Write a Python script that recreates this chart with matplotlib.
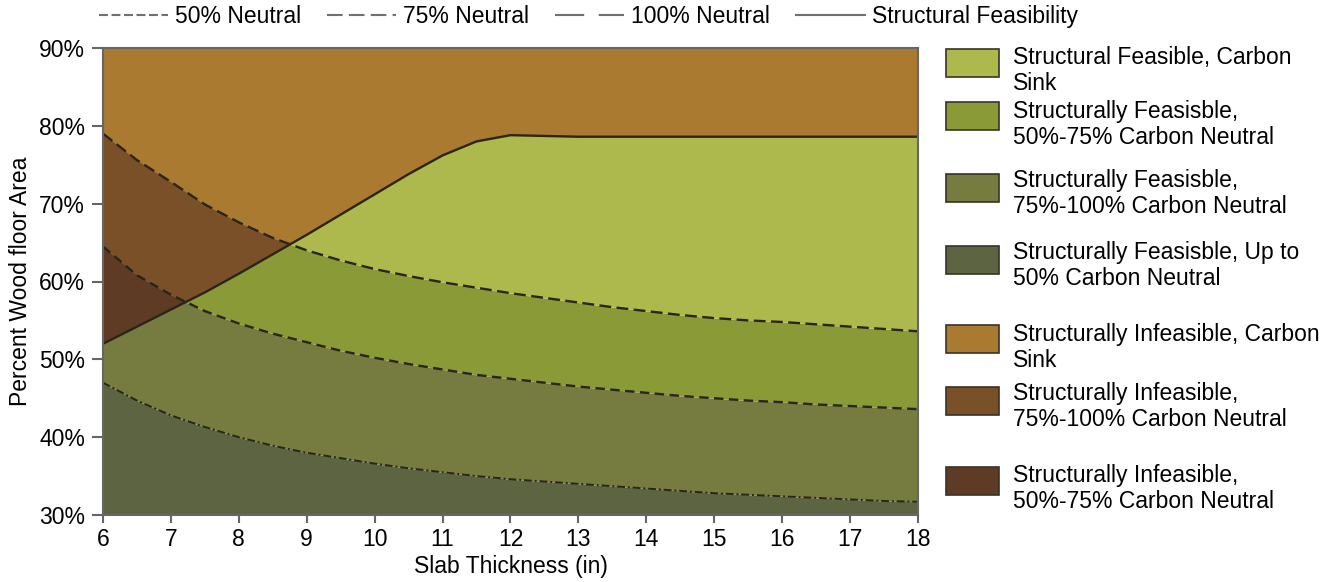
import numpy as np
import matplotlib
matplotlib.use('Agg')
import matplotlib.pyplot as plt
from matplotlib.lines import Line2D
from matplotlib.patches import Rectangle

plt.rcParams['font.family'] = ['Liberation Sans', 'DejaVu Sans']
plt.rcParams['font.size'] = 16.5

# slab thickness (in) and the boundary curves (% wood floor area)
thickness = [6, 6.5, 7, 7.5, 8, 8.5, 9, 9.5, 10, 10.5, 11, 11.5, 12,
             12.5, 13, 13.5, 14, 14.5, 15, 15.5, 16, 16.5, 17, 17.5, 18]
neutral_100 = [79.0, 75.6, 72.8, 69.9, 67.6, 65.6, 64.0, 62.7, 61.6, 60.7,
               59.9, 59.2, 58.5, 57.9, 57.3, 56.7, 56.2, 55.7, 55.3, 55.0,
               54.8, 54.5, 54.2, 53.9, 53.6]
neutral_75 = [64.5, 60.8, 58.3, 56.2, 54.6, 53.3, 52.2, 51.1, 50.2, 49.4,
              48.7, 48.0, 47.5, 47.0, 46.5, 46.1, 45.7, 45.3, 45.0, 44.7,
              44.5, 44.2, 44.0, 43.8, 43.6]
neutral_50 = [47.0, 44.7, 42.8, 41.3, 40.0, 38.9, 38.0, 37.3, 36.6, 36.0,
              35.5, 35.0, 34.6, 34.3, 34.0, 33.7, 33.4, 33.1, 32.8, 32.6,
              32.4, 32.2, 32.0, 31.8, 31.7]
feasibility = [52.0, 54.2, 56.4, 58.6, 61.0, 63.5, 66.0, 68.6, 71.2, 73.8,
               76.2, 78.0, 78.8, 78.7, 78.6, 78.6, 78.6, 78.6, 78.6, 78.6,
               78.6, 78.6, 78.6, 78.6, 78.6]

x_ticks = list(range(6, 19))
y_ticks = [30, 40, 50, 60, 70, 80, 90]

legend_labels = [
    'Structural Feasible, Carbon\nSink',
    'Structurally Feasisble,\n50%-75% Carbon Neutral',
    'Structurally Feasisble,\n75%-100% Carbon Neutral',
    'Structurally Feasisble, Up to\n50% Carbon Neutral',
    'Structurally Infeasible, Carbon\nSink',
    'Structurally Infeasible,\n75%-100% Carbon Neutral',
    'Structurally Infeasible,\n50%-75% Carbon Neutral',
]
legend_colors = ['#adb94c', '#8a9a37', '#767b3f', '#5d6441',
                 '#a97a30', '#7a5029', '#5e3b24']

x = np.array(thickness)
n100 = np.array(neutral_100)
n75 = np.array(neutral_75)
n50 = np.array(neutral_50)
feas = np.array(feasibility)
ymin, ymax = y_ticks[0], y_ticks[-1]

fig = plt.figure(figsize=(13.38, 5.82), dpi=100)
ax = fig.add_axes([103 / 1338, 1 - 515 / 582, 815 / 1338, 467 / 582])

# feasible (green) bands over the whole area
ax.fill_between(x, ymin, n50, color=legend_colors[3], lw=0)
ax.fill_between(x, n50, n75, color=legend_colors[2], lw=0)
ax.fill_between(x, n75, n100, color=legend_colors[1], lw=0)
ax.fill_between(x, n100, ymax, color=legend_colors[0], lw=0)

# infeasible (brown) bands, clipped to the area above the feasibility line
infeasible = ax.fill_between(x, feas, ymax, facecolor='none', lw=0)
clip = infeasible.get_paths()[0]
for lo, hi, col in [(n100, np.full_like(x, ymax), legend_colors[4]),
                    (n75, n100, legend_colors[5]),
                    (n50, n75, legend_colors[6])]:
    band = ax.fill_between(x, lo, hi, color=col, lw=0)
    band.set_clip_path(clip, ax.transData)

line_col = '#2b2519'
ax.plot(x, n100, color=line_col, lw=1.7, ls=(0, (5, 2.3)))
ax.plot(x, n75, color=line_col, lw=1.7, ls=(0, (4, 2.3)))
ax.plot(x, n50, color=line_col, lw=1.4, ls=(0, (4, 1.5, 1, 1.5)))
ax.plot(x, feas, color=line_col, lw=1.7)

ax.set_xlim(6, 18)
ax.set_ylim(ymin, ymax)
ax.set_xticks(x_ticks)
ax.set_yticks(y_ticks)
ax.set_yticklabels(['{}%'.format(v) for v in y_ticks])
for s in ax.spines.values():
    s.set_color('#666666')
    s.set_linewidth(1.5)
ax.tick_params(axis='y', direction='out', length=8, width=1.5,
               color='#666666', pad=5)
ax.tick_params(axis='x', direction='out', length=6, width=1.5,
               color='#666666', pad=3)
ax.set_xlabel('Slab Thickness (in)', labelpad=3)
ax.set_ylabel('Percent Wood floor Area', labelpad=5)

# top legend for the boundary lines
handles = [
    Line2D([], [], color='#707070', lw=1.5, ls=(0, (4.3, 1.7))),
    Line2D([], [], color='#707070', lw=1.5, ls=(0, (7.5, 3))),
    Line2D([], [], color='#707070', lw=1.5, ls=(0, (14, 7))),
    Line2D([], [], color='#707070', lw=1.5),
]
fig.legend(handles, ['50% Neutral', '75% Neutral', '100% Neutral',
                     'Structural Feasibility'],
           loc='upper left', bbox_to_anchor=(99 / 1338, 1 - 5 / 582),
           ncol=4, frameon=False, handlelength=3.0, handletextpad=0.3,
           columnspacing=1.15, borderpad=0, borderaxespad=0)

# right legend for the regions
patch_centers = [63, 116, 188, 260, 339, 401, 481]
text_tops = [46, 100, 169, 241, 323, 382, 464]
W, H = 1338, 582
for lab, col, pc, tt in zip(legend_labels, legend_colors, patch_centers,
                            text_tops):
    fig.patches.append(Rectangle((946 / W, 1 - (pc + 14) / H), 53 / W, 28 / H,
                                 facecolor=col, edgecolor='#3a3328', lw=1.2,
                                 transform=fig.transFigure, figure=fig))
    fig.text(1013 / W, 1 - tt / H, lab, ha='left', va='top',
             linespacing=1.18)

fig.savefig('out.png', dpi=100)
